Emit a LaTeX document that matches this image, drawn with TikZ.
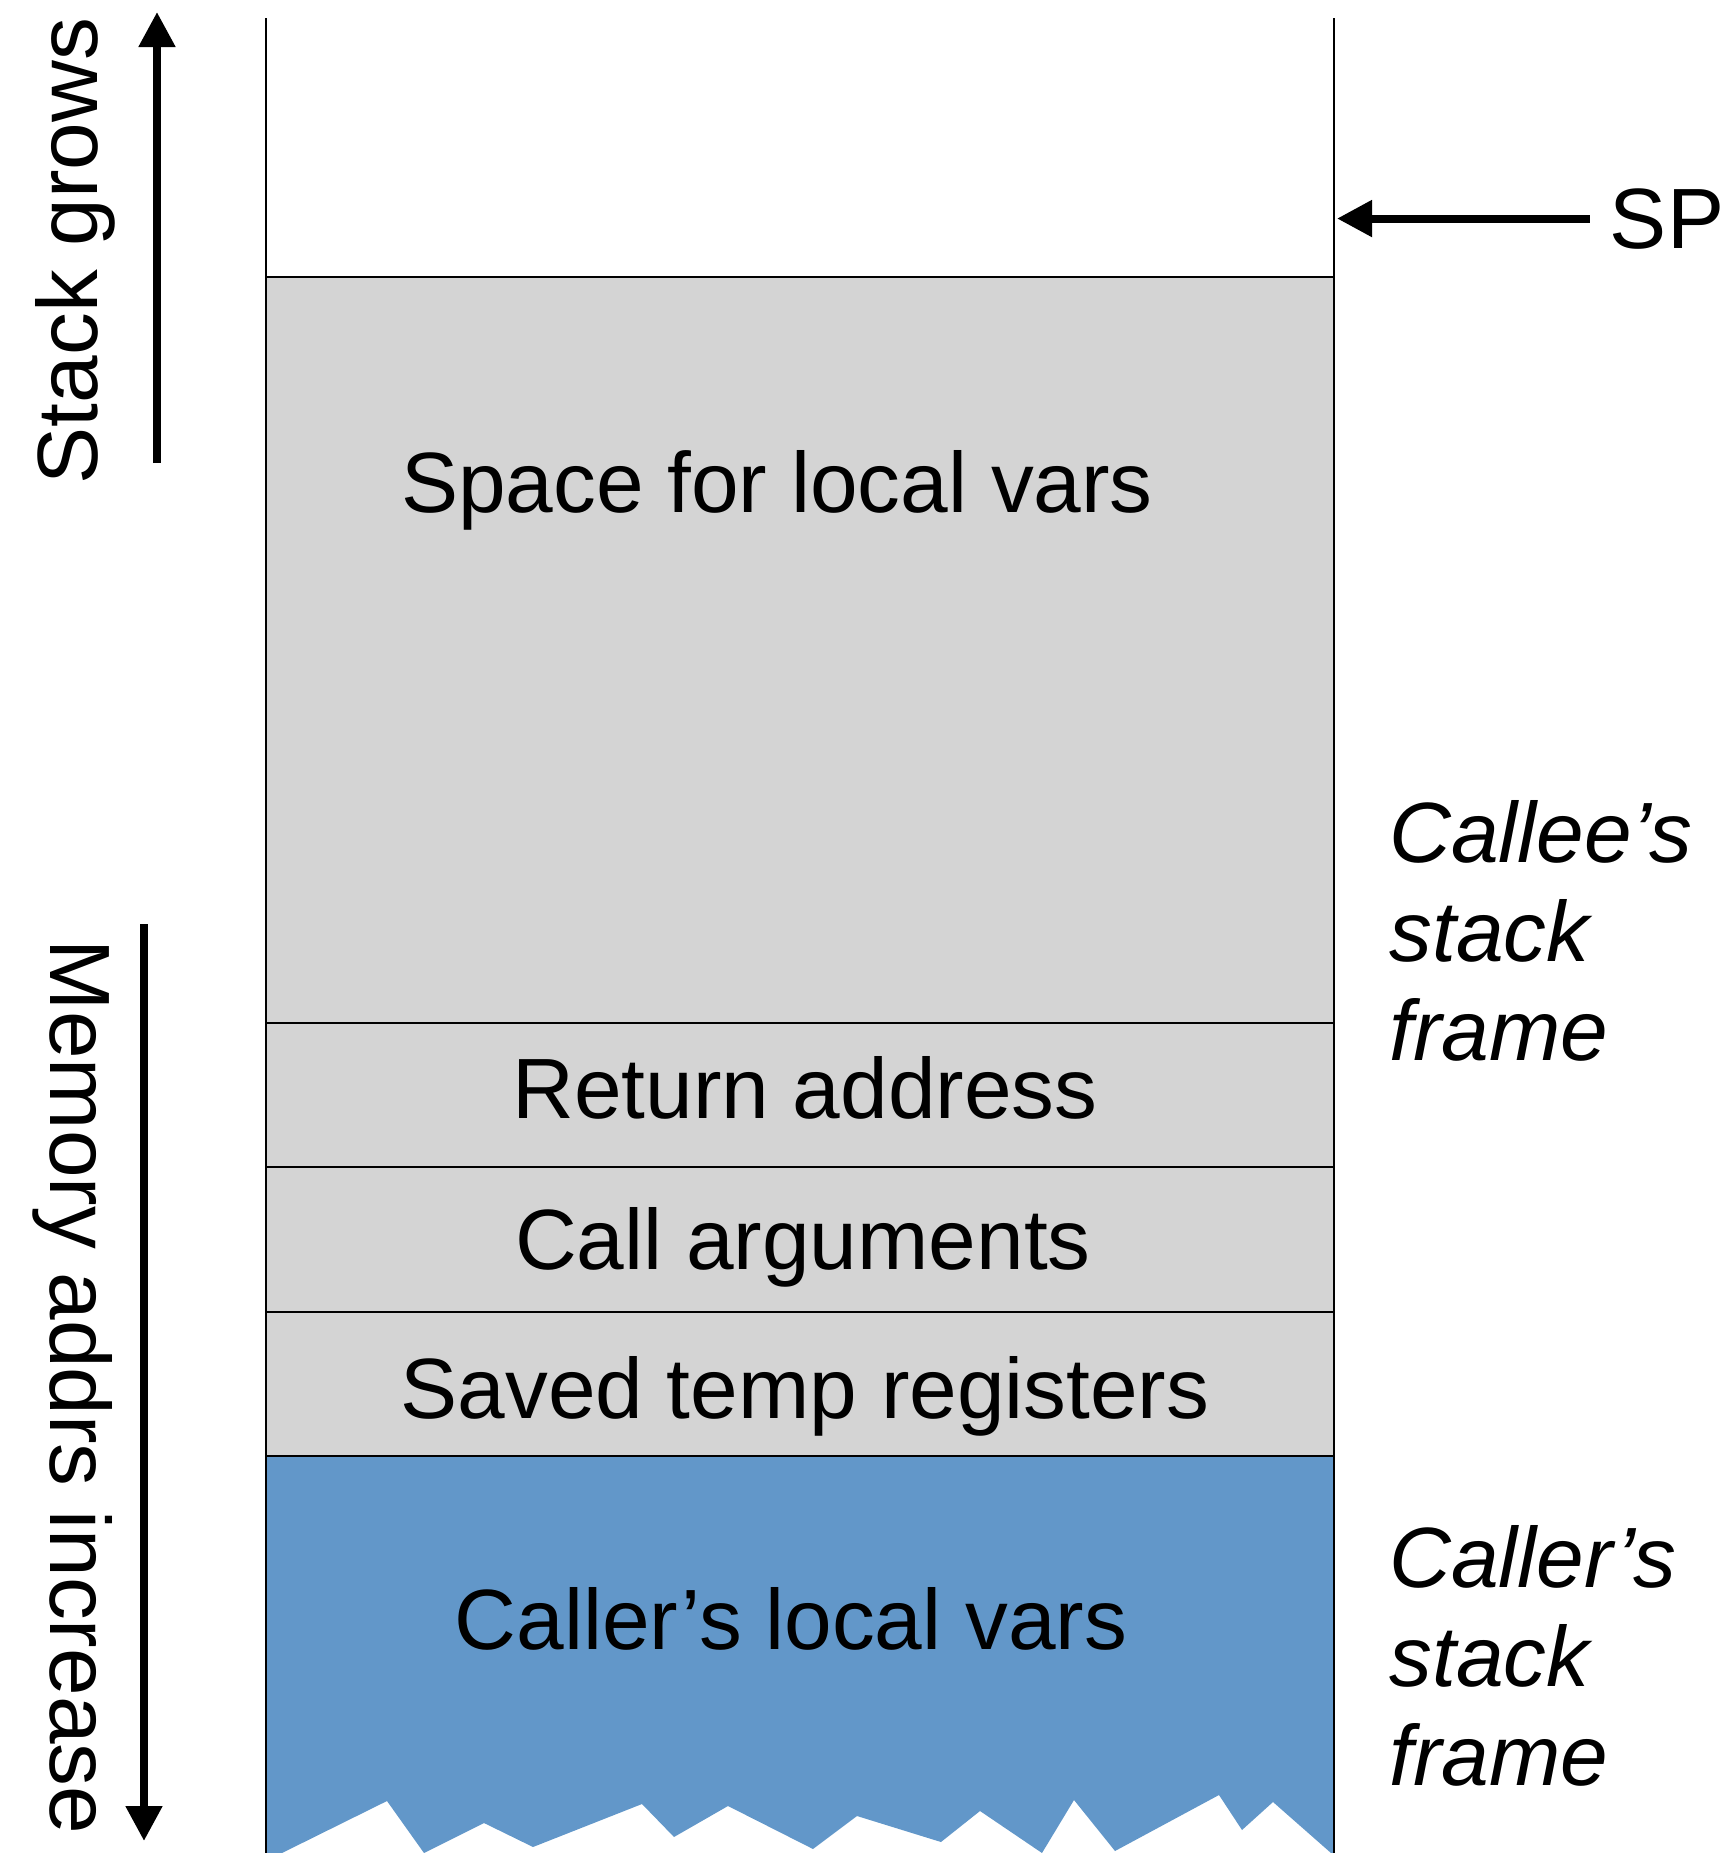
\documentclass[tikz,border=0pt]{standalone}
\usepackage{fontspec}
\setmainfont{Liberation Sans}
\usetikzlibrary{arrows.meta}
\definecolor{framegray}{RGB}{212,212,212}
\definecolor{callerblue}{RGB}{98,151,201}

\begin{document}
\begin{tikzpicture}[x=0.5pt,y=-0.5pt,
  wall/.style={line width=1.1pt},
  divider/.style={line width=1.2pt},
  cellText/.style={font=\fontsize{42.8}{49.5}\selectfont, inner sep=0pt, anchor=base},
  frameText/.style={font=\fontsize{42.8}{49.5}\selectfont\itshape, inner sep=0pt, anchor=base west, align=left},
  bigarrow/.style={line width=4pt, -{Triangle[length=17.5pt,width=17.5pt]}}]
\useasboundingbox (0,0) rectangle (1731,1853);

% corners of the stack column
\coordinate (wallTL) at (266,18);
\coordinate (wallTR) at (1334,18);
\coordinate (wallBL) at (266,1853);
\coordinate (wallBR) at (1334,1853);

% callee frame cells (gray)
\fill[framegray] (266,277) rectangle (1334,1456);

% caller frame (blue) with a torn lower edge
\fill[callerblue] (266,1456) -- (1334,1456) -- (1334,1853) -- (1331,1853)
  -- (1273,1802) -- (1242,1830) -- (1219,1795) -- (1115,1851) -- (1074,1800)
  -- (1042,1853) -- (980,1811) -- (941,1842) -- (857,1816) -- (813,1849)
  -- (728,1806) -- (674,1837) -- (642,1804) -- (533,1847) -- (484,1823)
  -- (424,1853) -- (387,1801) -- (282,1853) -- (266,1853) -- cycle;

% cell dividers
\draw[divider] (266,277) -- (1334,277);
\draw[divider] (266,1023) -- (1334,1023);
\draw[divider] (266,1167) -- (1334,1167);
\draw[divider] (266,1312) -- (1334,1312);
\draw[divider] (266,1456) -- (1334,1456);

% side walls
\draw[wall] (wallTL) -- (wallBL);
\draw[wall] (wallTR) -- (wallBR);

% cell labels
\node[cellText] (locals) at (777,512) {Space for local vars};
\node[cellText] (retaddr) at (805,1118) {Return address};
\node[cellText] (callargs) at (803,1269) {Call arguments};
\node[cellText] (savedregs) at (805,1418) {Saved temp registers};
\node[cellText] (callerlocals) at (791,1649) {Caller’s local vars};

% frame labels (anchored on the baseline of their last line)
\node[frameText] (calleeframe) at (1389,1060) {Callee’s\\stack\\frame};
\node[frameText] (callerframe) at (1389,1785) {Caller’s\\stack\\frame};

% stack pointer
\node[cellText] (sp) at (1667,248) {SP};
\draw[bigarrow, shorten <=10pt, shorten >=1.5pt] (sp.west) -- (sp.west -| wallTR);

% direction arrows
\node[cellText, rotate=90] (grows) at (97,251) {Stack grows};
\coordinate (growTail) at (157,463);
\coordinate (growTip) at (157,12);
\draw[bigarrow] (growTail) -- (growTip);

\node[cellText, rotate=-90] (addrs) at (50,1387) {Memory addrs increase};
\coordinate (addrTail) at (144,924);
\coordinate (addrTip) at (144,1841);
\draw[bigarrow] (addrTail) -- (addrTip);
\end{tikzpicture}
\end{document}
